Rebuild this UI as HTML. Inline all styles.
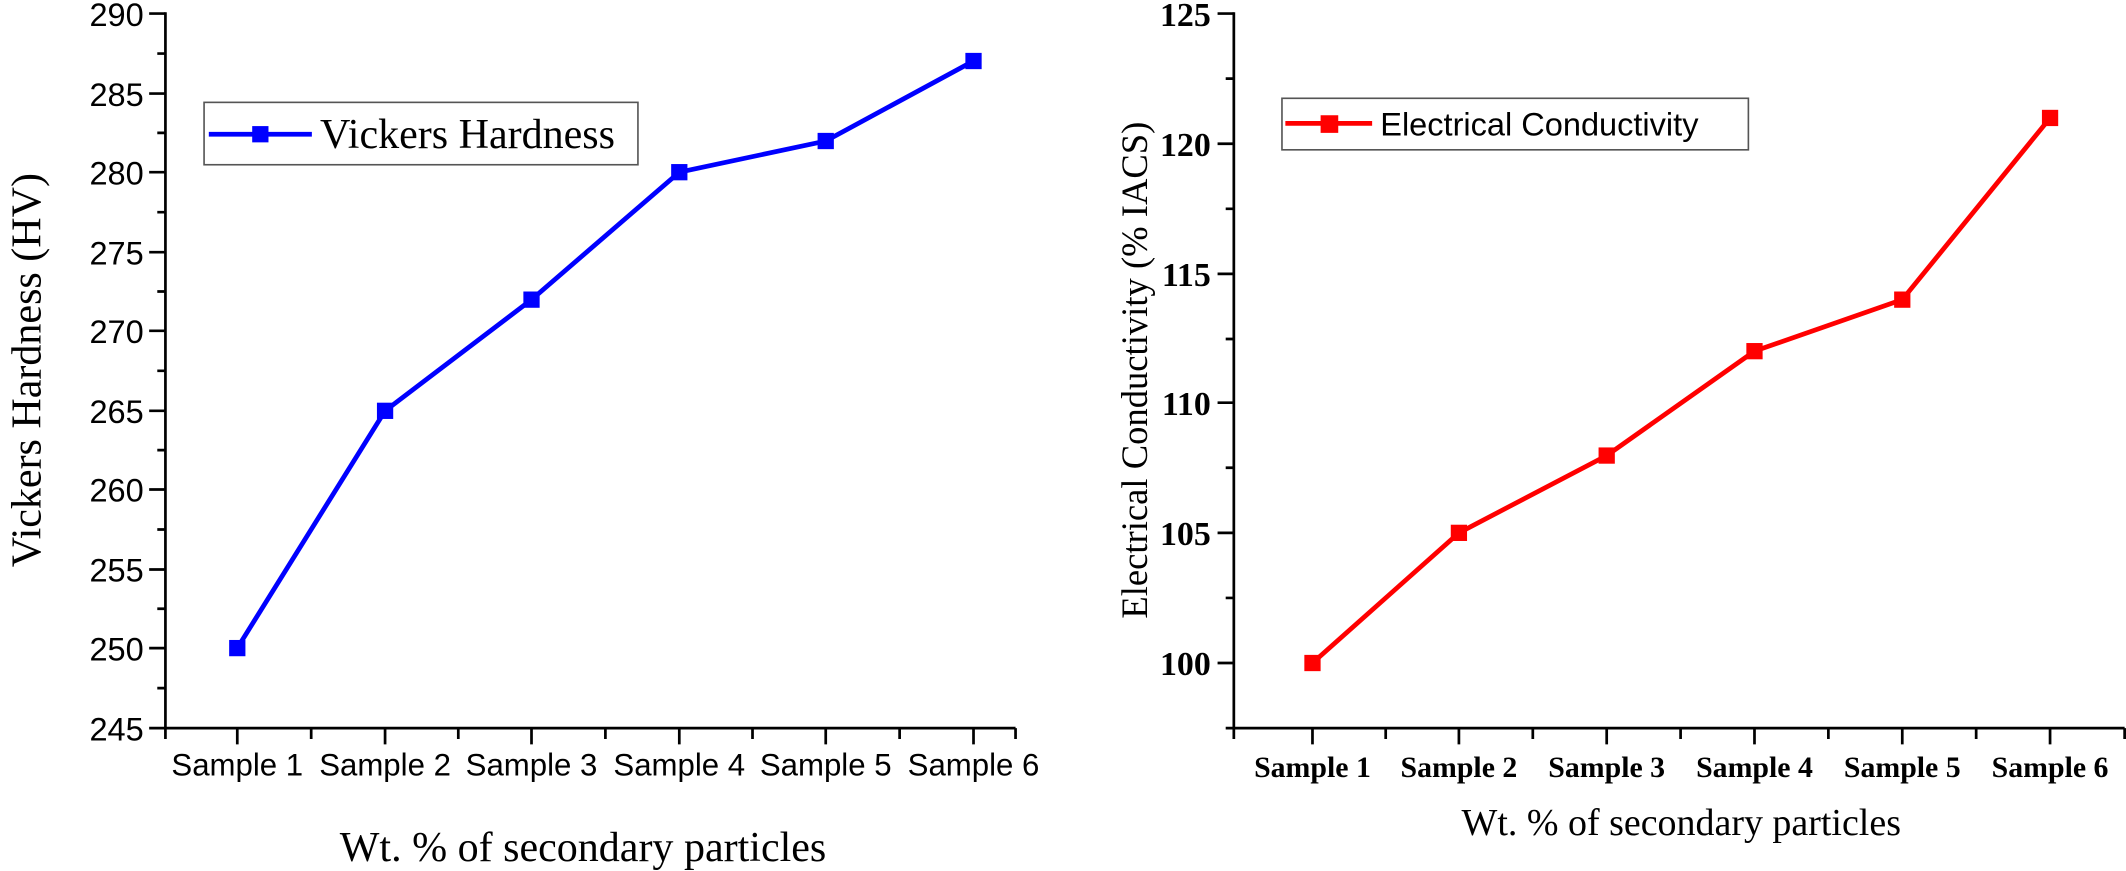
<!DOCTYPE html>
<html><head><meta charset="utf-8"><style>html,body{margin:0;padding:0;background:#fff}svg{display:block}</style></head>
<body>
<svg width="2126" height="871" viewBox="0 0 1568 642.4" xmlns="http://www.w3.org/2000/svg">
<rect width="1568" height="642.4" fill="#fff"/>
<!-- LEFT CHART -->
<g stroke="#000" stroke-width="2" fill="none">
<line x1="122" y1="9" x2="122" y2="538"/>
<line x1="121" y1="537" x2="749" y2="537"/>
<path d="M110 10H122M110 69H122M110 127H122M110 186H122M110 244H122M110 303H122M110 361H122M110 420H122M110 478H122M110 537H122"/>
<path d="M122 39.5H116M122 98H116M122 156.5H116M122 215H116M122 273.5H116M122 332H116M122 390.5H116M122 449H116M122 507.5H116"/>
<path d="M175 537V549M284 537V549M392 537V549M501 537V549M609 537V549M718 537V549"/>
<path d="M122 537V545M229.5 537V545M338 537V545M446.5 537V545M555 537V545M663.5 537V545M749 537V545"/>
</g>
<g font-family="Liberation Sans, sans-serif" font-size="24" text-anchor="end" fill="#000">
<text x="106" y="19">290</text><text x="106" y="78">285</text><text x="106" y="136">280</text><text x="106" y="195">275</text><text x="106" y="253">270</text><text x="106" y="312">265</text><text x="106" y="370">260</text><text x="106" y="429">255</text><text x="106" y="487">250</text><text x="106" y="546">245</text>
</g>
<g font-family="Liberation Sans, sans-serif" font-size="23" text-anchor="middle" fill="#000">
<text x="175" y="572">Sample 1</text><text x="284" y="572">Sample 2</text><text x="392" y="572">Sample 3</text><text x="501" y="572">Sample 4</text><text x="609" y="572">Sample 5</text><text x="718" y="572">Sample 6</text>
</g>
<text x="430" y="635" font-family="Liberation Serif, serif" font-size="31" text-anchor="middle">Wt. % of secondary particles</text>
<text transform="translate(30,273) rotate(-90)" font-family="Liberation Serif, serif" font-size="31" text-anchor="middle">Vickers Hardness (HV)</text>
<polyline points="175,478 284,303 392,221 501,127 609,104 718,45" fill="none" stroke="#0000ff" stroke-width="3.5"/>
<g fill="#0000ff">
<rect x="169" y="472" width="12" height="12"/><rect x="278" y="297" width="12" height="12"/><rect x="386" y="215" width="12" height="12"/><rect x="495" y="121" width="12" height="12"/><rect x="603" y="98" width="12" height="12"/><rect x="712" y="39" width="12" height="12"/>
</g>
<rect x="150.5" y="75.5" width="320" height="46" fill="#fff" stroke="#555" stroke-width="1.2"/>
<line x1="154" y1="99" x2="230" y2="99" stroke="#0000ff" stroke-width="3.5"/>
<rect x="186" y="93" width="12" height="12" fill="#0000ff"/>
<text x="236" y="109" font-family="Liberation Serif, serif" font-size="31">Vickers Hardness</text>

<!-- RIGHT CHART -->
<g stroke="#000" stroke-width="2" fill="none">
<line x1="910" y1="9" x2="910" y2="538"/>
<line x1="909" y1="537" x2="1567" y2="537"/>
<path d="M898 10H910M898 106H910M898 202H910M898 297H910M898 393H910M898 489H910"/>
<path d="M910 58H904M910 154H904M910 250H904M910 345H904M910 441H904M910 537H904"/>
<path d="M968 537V549M1076 537V549M1185 537V549M1294 537V549M1403 537V549M1512 537V549"/>
<path d="M910 537V545M1022 537V545M1130.5 537V545M1239.5 537V545M1348.5 537V545M1457.5 537V545M1567 537V545"/>
</g>
<g font-family="Liberation Serif, serif" font-size="25" font-weight="bold" text-anchor="end" fill="#000">
<text x="893" y="19">125</text><text x="893" y="115">120</text><text x="893" y="211">115</text><text x="893" y="306">110</text><text x="893" y="402">105</text><text x="893" y="498">100</text>
</g>
<g font-family="Liberation Serif, serif" font-size="22" font-weight="bold" text-anchor="middle" fill="#000">
<text x="968" y="573">Sample 1</text><text x="1076" y="573">Sample 2</text><text x="1185" y="573">Sample 3</text><text x="1294" y="573">Sample 4</text><text x="1403" y="573">Sample 5</text><text x="1512" y="573">Sample 6</text>
</g>
<text x="1240" y="616" font-family="Liberation Serif, serif" font-size="28" text-anchor="middle">Wt. % of secondary particles</text>
<text transform="translate(846,273) rotate(-90)" font-family="Liberation Serif, serif" font-size="27" text-anchor="middle">Electrical Conductivity (% IACS)</text>
<polyline points="968,489 1076,393 1185,336 1294,259 1403,221 1512,87" fill="none" stroke="#ff0000" stroke-width="3.5"/>
<g fill="#ff0000">
<rect x="962" y="483" width="12" height="12"/><rect x="1070" y="387" width="12" height="12"/><rect x="1179" y="330" width="12" height="12"/><rect x="1288" y="253" width="12" height="12"/><rect x="1397" y="215" width="12" height="12"/><rect x="1506" y="81" width="12" height="12"/>
</g>
<rect x="945.5" y="72.5" width="344" height="38" fill="#fff" stroke="#555" stroke-width="1.2"/>
<line x1="948" y1="91" x2="1012" y2="91" stroke="#ff0000" stroke-width="3.5"/>
<rect x="974" y="85" width="13" height="13" fill="#ff0000"/>
<text x="1018" y="100" font-family="Liberation Sans, sans-serif" font-size="24">Electrical Conductivity</text>
</svg>
</body></html>
